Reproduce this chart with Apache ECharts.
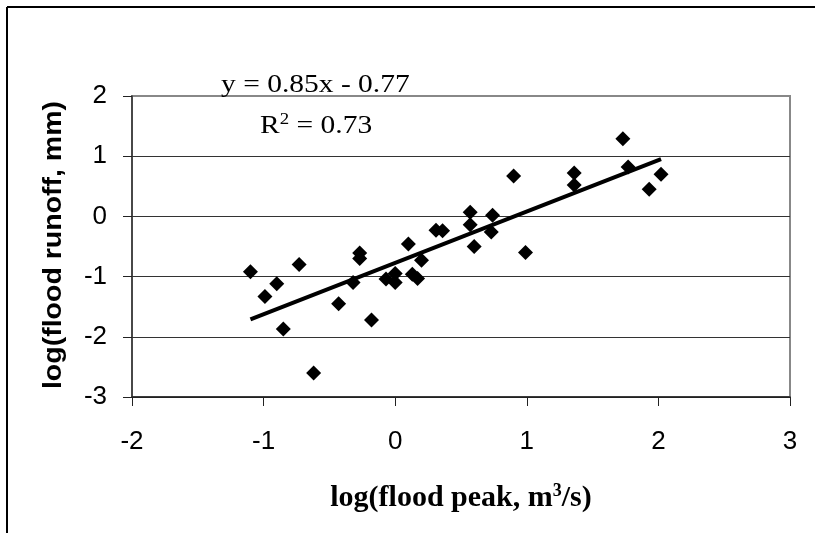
<!DOCTYPE html>
<html>
<head>
<meta charset="utf-8">
<script src="https://cdn.jsdelivr.net/npm/echarts@6/dist/echarts.min.js"></script>
<style>html,body{margin:0;padding:0;background:#fff;}#c{width:815px;height:533px;}</style>
</head>
<body>
<div id="c"></div>
<script>
var xVals = [-1.10, -0.99, -0.90, -0.85, -0.73, -0.62, -0.43, -0.32, -0.27, -0.27, -0.18, -0.07, 0.00, 0.00, 0.10, 0.13, 0.17, 0.20, 0.31, 0.36, 0.57, 0.57, 0.60, 0.74, 0.73, 0.90, 0.99, 1.36, 1.36, 1.73, 1.77, 1.93, 2.02];
var yVals = [-0.92, -1.33, -1.12, -1.87, -0.80, -2.60, -1.45, -1.10, -0.61, -0.70, -1.72, -1.04, -0.95, -1.10, -0.46, -0.96, -1.03, -0.73, -0.23, -0.24, 0.07, -0.14, -0.50, 0.02, -0.26, 0.67, -0.60, 0.72, 0.52, 1.29, 0.82, 0.45, 0.70];
var trendX = [-1.10, 2.02];
var trendY = [-1.71, 0.95];
var xTicks = [-2, -1, 0, 1, 2, 3];
var yTicks = [-3, -2, -1, 0, 1, 2];
var eqText = 'y = 0.85x - 0.77';
var r2Value = '0.73';
var xTitle = ['log(flood peak, m', '3', '/s)'];
var yTitle = 'log(flood runoff, mm)';

var pts = xVals.map(function (x, i) { return [x, yVals[i]]; });
var trend = trendX.map(function (x, i) { return [x, trendY[i]]; });

var chart = echarts.init(document.getElementById('c'));
chart.setOption({
  animation: false,
  backgroundColor: '#fff',
  grid: { left: 132, right: 25, top: 96, bottom: 136, show: true, borderColor: '#888', borderWidth: 2, backgroundColor: 'transparent' },
  xAxis: {
    type: 'value', min: xTicks[0], max: xTicks[xTicks.length - 1], interval: 1,
    axisLine: { show: true, onZero: false, lineStyle: { color: '#222', width: 1.5 } },
    axisTick: { show: true, inside: false, length: 9, lineStyle: { color: '#222' } },
    axisLabel: { margin: 32, fontFamily: 'Liberation Sans', fontSize: 26, color: '#000' },
    splitLine: { show: false }
  },
  yAxis: {
    type: 'value', min: yTicks[0], max: yTicks[yTicks.length - 1], interval: 1,
    axisLine: { show: true, onZero: false, lineStyle: { color: '#333', width: 1.5 } },
    axisTick: { show: true, inside: false, length: 9, lineStyle: { color: '#222' } },
    axisLabel: { margin: 25, fontFamily: 'Liberation Sans', fontSize: 26, color: '#000' },
    splitLine: { show: true, lineStyle: { color: ['#222', '#333', '#333', '#333', '#333', '#888'], width: 1 } }
  },
  graphic: [
    { type: 'line', shape: { x1: 7, y1: 7, x2: 815, y2: 7 }, style: { stroke: '#000', lineWidth: 2 }, z: 100 },
    { type: 'line', shape: { x1: 7, y1: 7, x2: 7, y2: 533 }, style: { stroke: '#000', lineWidth: 2 }, z: 100 },
    { type: 'text', x: 221, y: 85, scaleX: 1.18, z: 100,
      style: { text: eqText, font: '25px "Liberation Serif"', fill: '#000', align: 'left', verticalAlign: 'middle' } },
    { type: 'text', x: 260, y: 126, scaleX: 1.18, z: 100,
      style: { text: '{n|R}{s|2}{n| = ' + r2Value + '}', fill: '#000', align: 'left', verticalAlign: 'middle',
        rich: {
          n: { fontFamily: 'Liberation Serif', fontSize: 25, color: '#000' },
          s: { fontFamily: 'Liberation Serif', fontSize: 16, color: '#000', verticalAlign: 'top', padding: [0, 0, 12, 0] }
        } } },
    { type: 'text', x: 461, y: 498, z: 100,
      style: { text: '{n|' + xTitle[0] + '}{s|' + xTitle[1] + '}{n|' + xTitle[2] + '}', fill: '#000', align: 'center', verticalAlign: 'middle',
        rich: {
          n: { fontFamily: 'Liberation Serif', fontWeight: 'bold', fontSize: 30, color: '#000' },
          s: { fontFamily: 'Liberation Serif', fontWeight: 'bold', fontSize: 18, color: '#000', verticalAlign: 'top', padding: [0, 0, 14, 0] }
        } } },
    { type: 'text', x: 54, y: 245, rotation: Math.PI / 2, scaleX: 1.14, z: 100,
      style: { text: yTitle, font: 'bold 25px "Liberation Sans"', fill: '#000', align: 'center', verticalAlign: 'middle' } }
  ],
  series: [
    { type: 'scatter', data: pts, symbol: 'diamond', symbolSize: 15, itemStyle: { color: '#000', opacity: 1 }, z: 3 },
    { type: 'line', data: trend, showSymbol: false, symbol: 'none', lineStyle: { color: '#000', width: 4 }, z: 4 }
  ]
});
</script>
</body>
</html>
